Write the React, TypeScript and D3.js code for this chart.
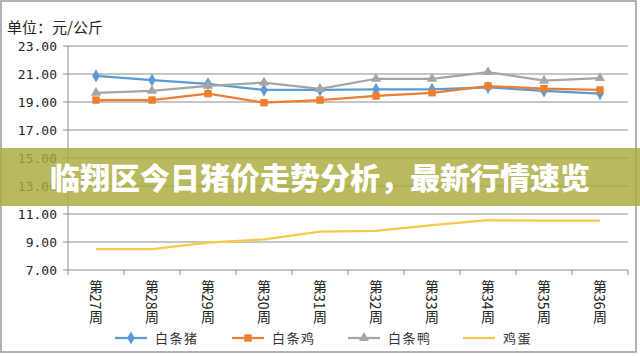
import React from "react";
import * as d3 from "d3";

const categories = ["第27周", "第28周", "第29周", "第30周", "第31周", "第32周", "第33周", "第34周", "第35周", "第36周"];
const pork = [20.86, 20.57, 20.3, 19.86, 19.86, 19.9, 19.9, 20.05, 19.8, 19.6];
const chicken = [19.14, 19.14, 19.6, 18.95, 19.14, 19.43, 19.66, 20.14, 19.95, 19.86];
const duck = [19.66, 19.8, 20.16, 20.38, 19.93, 20.66, 20.66, 21.14, 20.52, 20.71];
const eggs = [8.5, 8.5, 8.95, 9.19, 9.74, 9.79, 10.2, 10.57, 10.52, 10.52];
const yTicks = [7, 9, 11, 13, 15, 17, 19, 21, 23];
const seriesNames = ["白条猪", "白条鸡", "白条鸭", "鸡蛋"];
const unitLabel = "单位：元/公斤";
const bannerText = "临翔区今日猪价走势分析，最新行情速览";

const W = 640, H = 356;
const plot = { left: 68, right: 628, top: 46, bottom: 270 };

export default function App() {
  const x = d3.scaleBand<string>().domain(categories).range([plot.left, plot.right]);
  const y = d3.scaleLinear().domain([7, 23]).range([plot.bottom, plot.top]);
  const cx = (i: number) => (x(categories[i]) as number) + x.bandwidth() / 2;
  const line = d3.line<number>().x((_, i) => cx(i)).y((d) => y(d));

  const series = [
    { name: seriesNames[0], data: pork, color: "#5b9bd5", marker: "diamond" },
    { name: seriesNames[1], data: chicken, color: "#ed7d31", marker: "square" },
    { name: seriesNames[2], data: duck, color: "#a5a5a5", marker: "triangle" },
    { name: seriesNames[3], data: eggs, color: "#f7c948", marker: "none" },
  ];
  const sym = (m: string) =>
    m === "diamond" ? d3.symbol(d3.symbolDiamond, 50)() :
    m === "square" ? d3.symbol(d3.symbolSquare, 55)() :
    m === "triangle" ? d3.symbol(d3.symbolTriangle, 45)() : null;

  const legendX = [115, 232, 348, 463];
  const mono = "'DejaVu Sans Mono', monospace";
  const cjk = "'Noto Sans CJK SC', sans-serif";

  return (
    <svg width={W} height={H} style={{ position: "absolute", left: 0, top: 0, background: "#fff" }}>
      <rect x={1} y={1} width={635} height={351} fill="#fff" stroke="#999" strokeWidth={1.5} />
      <text x={7} y={33} fontSize={15} fontFamily={cjk} fill="#222">{unitLabel}</text>
      {yTicks.map((t) => (
        <g key={t}>
          <line x1={plot.left} x2={plot.right} y1={y(t)} y2={y(t)} stroke="#8c8c8c" strokeWidth={1} />
          <line x1={plot.left - 5} x2={plot.left} y1={y(t)} y2={y(t)} stroke="#8c8c8c" />
          <text x={57} y={y(t) + 4.5} textAnchor="end" fontSize={13} fontFamily={mono} fill="#222">{t.toFixed(2)}</text>
        </g>
      ))}
      <line x1={plot.left} x2={plot.left} y1={plot.top} y2={plot.bottom} stroke="#8c8c8c" />
      {categories.map((c, i) => (
        <line key={"t" + c} x1={x(c) as number} x2={x(c) as number} y1={plot.bottom} y2={plot.bottom + 5} stroke="#8c8c8c" />
      ))}
      <line x1={plot.right} x2={plot.right} y1={plot.bottom} y2={plot.bottom + 5} stroke="#8c8c8c" />
      {categories.map((c, i) => (
        <text key={c} x={cx(i)} y={280} fontSize={14} fontFamily={cjk} fill="#222"
          style={{ writingMode: "vertical-rl", textOrientation: "mixed" } as any}>{c}</text>
      ))}
      {series.map((s) => (
        <g key={s.name}>
          <path d={line(s.data) as string} fill="none" stroke={s.color} strokeWidth={2.25} />
          {s.marker !== "none" && s.data.map((v, i) => (
            <path key={i} d={sym(s.marker) as string} transform={`translate(${cx(i)},${y(v)})`} fill={s.color} />
          ))}
        </g>
      ))}
      {series.map((s, k) => (
        <g key={"lg" + s.name} transform={`translate(${legendX[k]},338)`}>
          <line x1={0} x2={32} y1={0} y2={0} stroke={s.color} strokeWidth={2.25} />
          {s.marker !== "none" && <path d={sym(s.marker) as string} transform="translate(16,0)" fill={s.color} />}
          <text x={40} y={5} fontSize={13} letterSpacing={1.5} fontFamily={cjk} fill="#333">{s.name}</text>
        </g>
      ))}
      <rect x={0} y={148} width={W} height={58} fill="rgb(170,170,60)" fillOpacity={0.82} />
      <text x={320} y={189} textAnchor="middle" fontSize={30} fontWeight={900} fontFamily={cjk} fill="#fff">{bannerText}</text>
    </svg>
  );
}
